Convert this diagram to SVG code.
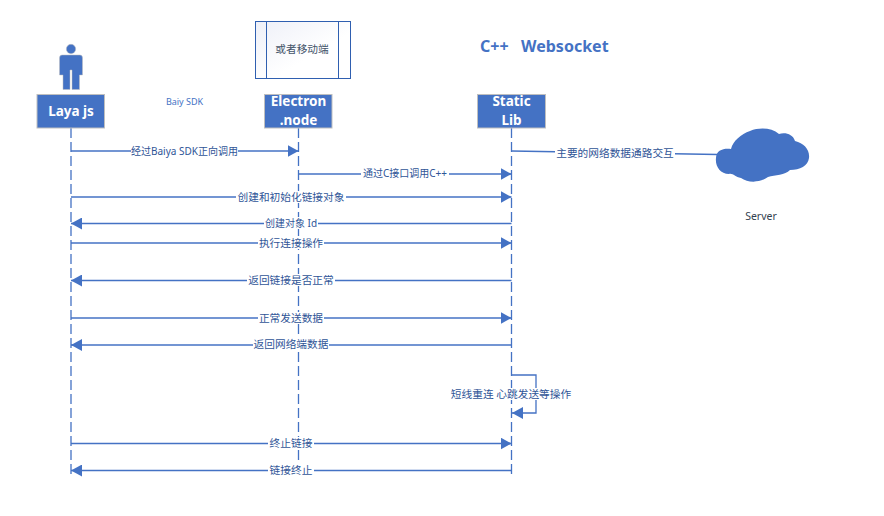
<svg xmlns="http://www.w3.org/2000/svg" width="884" height="516" viewBox="0 0 884 516">
<style>
text{font-family:"Noto Sans","Noto Sans CJK SC",sans-serif}
.life{stroke:#4472c4;stroke-width:1.3;stroke-dasharray:10 4;fill:none}
.msg{stroke:#4472c4;stroke-width:1.3;fill:none}
.lb{fill:#fff}
.t{font-size:10.700px;fill:#2f5597;text-anchor:middle}
.s{font-size:10px}
.box{fill:#4472c4;stroke:#bfbfbf;stroke-width:1}
.bt{font-size:13.500px;font-weight:700;fill:#fff;text-anchor:middle}
.fr{fill:url(#g);stroke:#2f5fb0;stroke-width:1}
</style>
<defs>
<marker id="a" markerUnits="userSpaceOnUse" markerWidth="12" markerHeight="12" refX="11" refY="6" orient="auto"><path d="M0 0L11 6L0 12Z" fill="#4472c4"/></marker>
<linearGradient id="g" x1="0" y1="0" x2="1" y2="1"><stop offset="0" stop-color="#eef0f8"/><stop offset="0.6" stop-color="#ffffff"/></linearGradient>
</defs>
<rect width="884" height="516" fill="#fff"/>
<g id="connectors">
<path class="life" d="M71 128V476"/>
<path class="life" d="M298.500 128V476"/>
<path class="life" d="M511.500 128V476"/>
<path class="msg" d="M71 151H298.500" marker-end="url(#a)"/>
<path class="msg" d="M298.500 174H511.500" marker-end="url(#a)"/>
<path class="msg" d="M71 197H511.500" marker-end="url(#a)"/>
<path class="msg" d="M511.500 223.500H71" marker-end="url(#a)"/>
<path class="msg" d="M71 243H511.500" marker-end="url(#a)"/>
<path class="msg" d="M511.500 280.500H71" marker-end="url(#a)"/>
<path class="msg" d="M71 318H511.500" marker-end="url(#a)"/>
<path class="msg" d="M511.500 345H71" marker-end="url(#a)"/>
<path class="msg" d="M511.500 375H536V413H512" marker-end="url(#a)"/>
<path class="msg" d="M71 443.500H511.500" marker-end="url(#a)"/>
<path class="msg" d="M511.500 470.500H71" marker-end="url(#a)"/>
<path class="msg" d="M511.500 151L718 154.500"/>
<rect class="lb" x="131" y="145" width="107" height="12"/>
<text class="t s" x="184.500" y="154.500">经过Baiya SDK正向调用</text>
<rect class="lb" x="361" y="168" width="88" height="12"/>
<text class="t s" x="405" y="177">通过C接口调用C++</text>
<rect class="lb" x="236" y="191" width="110" height="12"/>
<text class="t" x="291" y="200.500">创建和初始化链接对象</text>
<rect class="lb" x="264" y="217" width="54" height="12"/>
<text class="t s" x="291" y="226.500">创建对象 Id</text>
<rect class="lb" x="258" y="237" width="66" height="12"/>
<text class="t" x="291" y="246.500">执行连接操作</text>
<rect class="lb" x="247" y="274" width="88" height="12"/>
<text class="t" x="291" y="284">返回链接是否正常</text>
<rect class="lb" x="258" y="312" width="66" height="12"/>
<text class="t" x="291" y="321.500">正常发送数据</text>
<rect class="lb" x="253" y="338" width="76" height="12"/>
<text class="t" x="291" y="348">返回网络端数据</text>
<rect class="lb" x="450" y="388" width="122" height="12"/>
<text class="t" x="511" y="397.500">短线重连 心跳发送等操作</text>
<rect class="lb" x="268" y="437" width="46" height="12"/>
<text class="t" x="291" y="447">终止链接</text>
<rect class="lb" x="268" y="464" width="46" height="12"/>
<text class="t" x="291" y="474">链接终止</text>
<rect class="lb" x="555" y="147" width="120" height="13"/>
<text class="t" x="615" y="156.500">主要的网络数据通路交互</text>
</g>
<g id="actor">
<circle cx="71" cy="49" r="4.700" fill="#4472c4" stroke="#bfbfbf" stroke-width="0.500"/>
<path d="M62 55H80Q82.500 55 82.500 58V75H79.500V89.500H72V70H70V89.500H63V75H59.500V58Q59.500 55 62 55Z" fill="#4472c4" stroke="#bfbfbf" stroke-width="0.500"/>
</g>
<g id="laya"><rect class="box" x="37" y="94.500" width="67.500" height="33.500"/><text class="bt" x="71" y="116">Laya js</text></g>
<g id="electron"><rect class="box" x="264.500" y="94.500" width="67.500" height="33.500"/><text class="bt" x="298.500" y="106">Electron</text><text class="bt" x="298.500" y="125">.node</text></g>
<g id="static"><rect class="box" x="477.500" y="94.500" width="68" height="33.500"/><text class="bt" x="511.500" y="106">Static</text><text class="bt" x="511.500" y="125">Lib</text></g>
<g id="mobile"><rect class="fr" x="255.500" y="21.500" width="95" height="57"/><path d="M266.500 21.500V78.500M338.500 21.500V78.500" stroke="#2f5fb0" fill="none"/><text class="t" x="302" y="52.500" style="fill:#44546a">或者移动端</text></g>
<g id="sdk"><text x="184.500" y="105" font-size="9" fill="#4472c4" text-anchor="middle">Baiy SDK</text></g>
<g id="title"><text x="480" y="52" font-size="16" font-weight="700" fill="#4472c4" xml:space="preserve">C++   Websocket</text></g>
<g id="server">
<path d="M716 158C716 150 724 148 731 149C733 141 741 134 750 131C760 127 772 128 779 134C785 132 793 134 795 141C804 143 810 150 809 158C808 166 800 170 790 170C785 175 775 175 768 177C760 183 748 183 741 178C735 177 733 173 729 174C720 174 715 166 716 158Z" fill="#4472c4"/>
<text x="761" y="220" font-size="10.500" fill="#333f50" text-anchor="middle">Server</text>
</g>
</svg>
